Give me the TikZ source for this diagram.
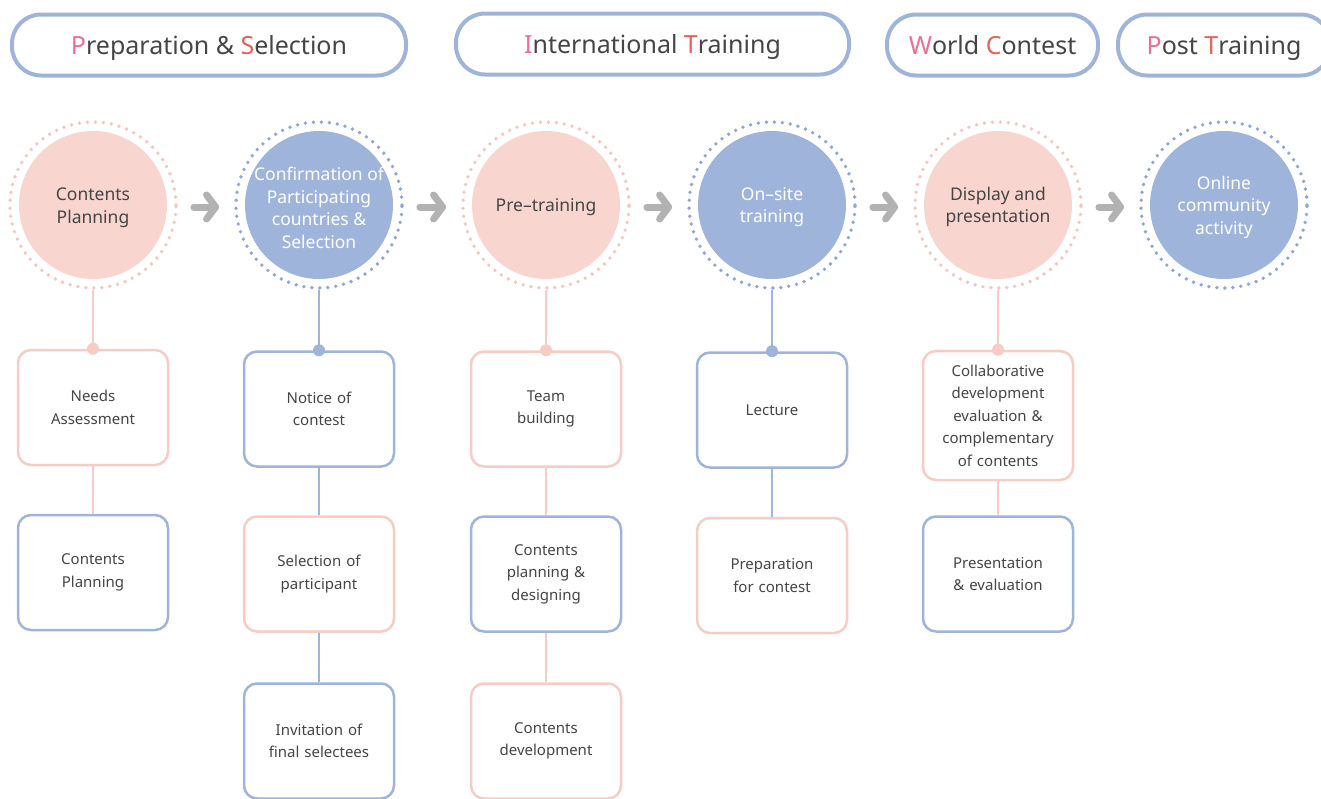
\documentclass[tikz,border=0pt]{standalone}
\usepackage{fontspec}
\setmainfont{Noto Sans}
\usetikzlibrary{positioning, shapes, arrows.meta}

\definecolor{stageblue}{HTML}{9FB4DA}
\definecolor{stagepink}{HTML}{F8D5CF}
\definecolor{linepink}{HTML}{F6CCC5}
\definecolor{dotblue}{HTML}{8FA6D6}
\definecolor{dotpink}{HTML}{F5C6BF}
\definecolor{hpink}{HTML}{EC6E92}
\definecolor{hred}{HTML}{E4625C}
\definecolor{textgray}{HTML}{454545}
\definecolor{arrowgray}{HTML}{B2B2B2}

\begin{document}
\begin{tikzpicture}[
			x = 1pt, y = -1pt,
			header/.style = {draw = stageblue, line width = 4pt, rounded corners = 29pt, minimum height = 61pt, text height = 18pt, text depth = 0pt, text = textgray, font = \fontsize{25}{30}\selectfont},
			stage/.style = {circle, minimum size = 148pt, inner sep = 0pt},
			pinkstage/.style = {stage, fill = stagepink},
			bluestage/.style = {stage, fill = stageblue},
			stagetext/.style = {align = center, text = #1, font = \fontsize{17.5}{22.5}\selectfont},
			ring/.style = {circle, draw = #1, minimum size = 166pt, line width = 3.8pt, dash pattern = on 0pt off 8pt, line cap = round},
			task/.style = {draw, rounded corners = 13pt, line width = 2.5pt, fill = white, minimum width = 150pt, minimum height = 115pt, text width = 140pt, align = center, text = textgray, font = \fontsize{15}{22.5}\selectfont},
			pinktask/.style = {task, draw = linepink},
			bluetask/.style = {task, draw = stageblue},
			link/.style = {line width = 1.4pt, draw = #1},
			flow/.style = {draw = arrowgray, line width = 7pt, line cap = round, shorten < = 16pt, shorten > = 15pt, -{Straight Barb[round, length = 9pt, width = 24pt]}}
		]
		\useasboundingbox (0,0) rectangle (1321,798);

		% phases
		\node[header, minimum width = 394pt] (h1) at (209,45) {{\color{hpink}P}reparation \& {\color{hred}S}election};
		\node[header, minimum width = 393pt] (h2) at (652.5,44) {{\color{hpink}I}nternational {\color{hred}T}raining};
		\node[header, minimum width = 211pt] (h3) at (992.5,45) {{\color{hpink}W}orld {\color{hred}C}ontest};
		\node[header, minimum width = 212pt] (h4) at (1224,45) {{\color{hpink}P}ost {\color{hred}T}raining};

		% stages
		\node[ring = dotpink] (r1) at (93,205) {};
		\node[ring = dotblue] (r2) at (319,205) {};
		\node[ring = dotpink] (r3) at (546,205) {};
		\node[ring = dotblue] (r4) at (772,205) {};
		\node[ring = dotpink] (r5) at (998,205) {};
		\node[ring = dotblue] (r6) at (1224,205) {};
		\node[pinkstage] (s1) at (r1) {};
		\node[bluestage] (s2) at (r2) {};
		\node[pinkstage] (s3) at (r3) {};
		\node[bluestage] (s4) at (r4) {};
		\node[pinkstage] (s5) at (r5) {};
		\node[bluestage] (s6) at (r6) {};
		\node[stagetext = textgray] (l1) at ([yshift = -3pt]s1) {Contents\\Planning};
		\node[stagetext = white] (l2) at ([yshift = -3pt]s2) {Confirmation of\\Participating\\countries \&\\Selection};
		\node[stagetext = textgray] (l3) at ([yshift = -2pt]s3) {Pre–training};
		\node[stagetext = white] (l4) at ([yshift = -2pt]s4) {On–site\\training};
		\node[stagetext = textgray] (l5) at ([yshift = -2pt]s5) {Display and\\presentation};
		\node[stagetext = white] (l6) at ([yshift = -2pt]s6) {Online\\community\\activity};

		\foreach \a/\b in {r1/r2, r2/r3, r3/r4, r4/r5, r5/r6}
			\draw[flow] ([yshift = -2pt]\a.east) -- ([yshift = -2pt]\b.west);

		% tasks
		\node[pinktask] (t11) at (93,407.5) {Needs\\Assessment};
		\node[bluetask] (t12) at (93,572.5) {Contents\\Planning};

		\node[bluetask] (t21) at (319,409) {Notice of\\contest};
		\node[pinktask] (t22) at (319,574) {Selection of\\participant};
		\node[bluetask] (t23) at (319,741) {Invitation of\\final selectees};

		\node[pinktask] (t31) at (546,409) {Team\\building};
		\node[bluetask] (t32) at (546,574) {Contents\\planning \&\\designing};
		\node[pinktask] (t33) at (546,741) {Contents\\development};

		\node[bluetask] (t41) at (772,410) {Lecture};
		\node[pinktask] (t42) at (772,575.5) {Preparation\\for contest};

		\node[pinktask, minimum height = 129pt] (t51) at (998,415.5) {Collaborative\\development\\evaluation \&\\complementary\\of contents};
		\node[bluetask] (t52) at (998,574) {Presentation\\\& evaluation};

		% links
		\draw[link = linepink] (r1.south) -- (t11.north) (t11.south) -- (t12.north);
		\draw[link = stageblue] (r2.south) -- (t21.north) (t21.south) -- (t22.north) (t22.south) -- (t23.north);
		\draw[link = linepink] (r3.south) -- (t31.north) (t31.south) -- (t32.north) (t32.south) -- (t33.north);
		\draw[link = stageblue] (r4.south) -- (t41.north) (t41.south) -- (t42.north);
		\draw[link = linepink] (r5.south) -- (t51.north) (t51.south) -- (t52.north);
		\fill[linepink] (t11.north) circle (6pt) (t31.north) circle (6pt) (t51.north) circle (6pt);
		\fill[stageblue] (t21.north) circle (6pt) (t41.north) circle (6pt);
	\end{tikzpicture}
\end{document}
